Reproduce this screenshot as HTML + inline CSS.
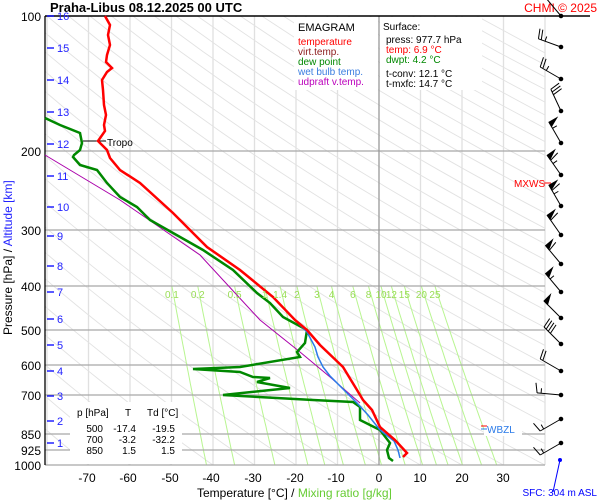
<!DOCTYPE html>
<html><head><meta charset="utf-8"><style>
html,body{margin:0;padding:0;background:#fff;}
svg{display:block;font-family:"Liberation Sans",sans-serif;}
</style></head><body>
<svg id="s" width="600" height="500" viewBox="0 0 600 500" xmlns="http://www.w3.org/2000/svg">
<rect width="600" height="500" fill="#fff"/>
<g id="bg"></g>
<g stroke="#a8a8a8" stroke-width="1.3">
<line x1="45" y1="151" x2="545" y2="151"/><line x1="45" y1="230" x2="545" y2="230"/>
<line x1="45" y1="286" x2="545" y2="286"/><line x1="45" y1="330" x2="545" y2="330"/>
<line x1="45" y1="365" x2="545" y2="365"/><line x1="45" y1="395" x2="545" y2="395"/>
<line x1="45" y1="434" x2="545" y2="434"/><line x1="45" y1="450" x2="545" y2="450"/>
<line x1="45" y1="465" x2="545" y2="465"/>
</g>
<line x1="379" y1="16" x2="379" y2="465" stroke="#999" stroke-width="1.3"/>
<rect x="294" y="17" width="84" height="73" fill="#fff"/>
<rect x="380" y="17" width="102" height="73" fill="#fff"/>
<text x="298" y="31" font-size="11">EMAGRAM</text>
<g font-size="10">
<text x="298" y="45" fill="#f00">temperature</text>
<text x="298" y="55" fill="#8b1a1a">virt.temp.</text>
<text x="298" y="65" fill="#080">dew point</text>
<text x="298" y="75" fill="#3a7de0">wet bulb temp.</text>
<text x="298" y="85" fill="#b0b">udpraft v.temp.</text>
<text x="383" y="30" fill="#000">Surface:</text>
<text x="386" y="43">press: 977.7 hPa</text>
<text x="386" y="53" fill="#f00">temp: 6.9 °C</text>
<text x="386" y="63" fill="#080">dwpt: 4.2 °C</text>
<text x="386" y="77">t-conv: 12.1 °C</text>
<text x="386" y="87">t-mxfc: 14.7 °C</text>
</g>
<line x1="45" y1="16" x2="590" y2="16" stroke="#000" stroke-width="1.5"/>
<line x1="45" y1="16" x2="45" y2="465" stroke="#000" stroke-width="1.3"/>
<text x="50" y="12" font-size="13" font-weight="bold">Praha-Libus    08.12.2025 00 UTC</text>
<text x="597" y="12" font-size="12" fill="#f00" text-anchor="end">CHMI © 2025</text>
<g font-size="12" text-anchor="end">
<text x="41" y="21">100</text><text x="41" y="156">200</text><text x="41" y="235">300</text>
<text x="41" y="291">400</text><text x="41" y="335">500</text><text x="41" y="370">600</text>
<text x="41" y="400">700</text><text x="41" y="439">850</text><text x="41" y="455">925</text>
<text x="41" y="470">1000</text>
</g>
<g stroke="#00f" stroke-width="1.3" id="km"></g>
<g font-size="11" fill="#22f" id="kmt"></g>
<text transform="translate(12,335) rotate(-90)" font-size="12">Pressure [hPa]  /  <tspan fill="#22f">Altitude [km]</tspan></text>
<g font-size="12" text-anchor="middle">
<text x="87" y="482">-70</text><text x="128" y="482">-60</text><text x="170" y="482">-50</text>
<text x="211" y="482">-40</text><text x="253" y="482">-30</text><text x="295" y="482">-20</text>
<text x="336" y="482">-10</text><text x="379" y="482">0</text><text x="420" y="482">10</text>
<text x="462" y="482">20</text><text x="503" y="482">30</text>
</g>
<text x="197" y="497" font-size="12">Temperature [°C]  /  <tspan fill="#6c3">Mixing ratio [g/kg]</tspan></text>
<line x1="83" y1="141" x2="106" y2="141" stroke="#000"/>
<text x="107" y="146" font-size="10">Tropo</text>
<polyline fill="none" stroke="#a0a" stroke-width="1" points="45,155 120,200 200,255 260,320 300,352 330,377 360,403"/>
<polyline fill="none" stroke="#080" stroke-width="2.5" points="45,118 60,125 80,133 82,143 80,150 74,155 73,157 80,165 97,170 107,183 120,197 137,207 150,220 173,233 203,250 233,270 257,293 270,303 283,317 307,330 305,343 297,352 300,357 240,367 193,369 240,372 253,377 270,378 257,382 290,388 223,395 313,400 353,402 360,407 360,420 380,430 390,443 387,450 389,458 393,461"/>
<polyline fill="none" stroke="#2a7ae8" stroke-width="1.5" points="295,320 307,332 315,347 318,357 323,367 330,376 337,383 347,393 357,403 368,415 380,430 394,441 398,450 400,458"/>
<polyline fill="none" stroke="#f00" stroke-width="2.5" points="105,16 110,25 108,35 110,45 107,55 106,62 112,68 107,72 102,80 103,90 104,105 106,115 104,125 105,131 98,141 107,150 110,158 120,170 140,183 173,213 207,247 240,270 273,297 295,320 307,330 320,345 343,367 357,390 363,400 372,410 380,427 395,440 407,453 403,457"/>
<rect x="70" y="402" width="112" height="62" fill="#fff"/>
<g font-size="10">
<text x="77" y="416">p [hPa]</text><text x="125" y="416">T</text><text x="147" y="416">Td [°C]</text>
<g text-anchor="end">
<text x="103" y="432">500</text><text x="136" y="432">-17.4</text><text x="175" y="432">-19.5</text>
<text x="103" y="443">700</text><text x="136" y="443">-3.2</text><text x="175" y="443">-32.2</text>
<text x="103" y="454">850</text><text x="136" y="454">1.5</text><text x="175" y="454">1.5</text>
</g></g>
<rect x="484" y="422" width="38" height="14" fill="#fff"/>
<line x1="481" y1="426" x2="487" y2="426" stroke="#f00"/><line x1="481" y1="429" x2="487" y2="429" stroke="#2a7ae8"/>
<text x="487" y="433" font-size="10" fill="#2a7ae8">WBZL</text>
<text x="514" y="187" font-size="10" fill="#f00">MXWS</text>
<line x1="544" y1="183" x2="551" y2="183" stroke="#f00"/>
<g id="barbs" stroke="#000" stroke-width="1" fill="#000"></g>
<line x1="560" y1="460" x2="553" y2="492" stroke="#00f"/><circle cx="560" cy="460" r="2" fill="#00f"/>
<text x="597" y="496" font-size="10" fill="#00f" text-anchor="end">SFC: 304 m ASL</text>
<g id="mr" font-size="10" fill="#9d5" text-anchor="middle"></g>
</svg>
<script>
var NS="http://www.w3.org/2000/svg";
function el(p,t,a,tx){var e=document.createElementNS(NS,t);for(var k in a)e.setAttribute(k,a[k]);if(tx!=null)e.textContent=tx;p.appendChild(e);return e;}
function Y(p){return 16+449*Math.log10(p/100);}
function X(t){return 379+4.15*t;}
var bg=document.getElementById('bg');
for(var t=-80;t<=40;t+=10){if(t==0)continue;var x=X(t);if(x<45||x>545)continue;el(bg,'line',{x1:x,y1:16,x2:x,y2:465,stroke:'#e0e0e0','stroke-width':1.3});}
var cp=el(bg,'clipPath',{id:'c'});el(cp,'rect',{x:45,y:16,width:500,height:449});
var g=el(bg,'g',{'clip-path':'url(#c)'});
for(var th=-100;th<=300;th+=10){var pts=[];for(var p=100;p<=1000;p+=20){var T=(th+273.15)*Math.pow(p/1000,0.286)-273.15;pts.push(X(T).toFixed(1)+','+Y(p).toFixed(1));}
el(g,'polyline',{points:pts.join(' '),fill:'none',stroke:'#e2e2e2','stroke-width':0.9});}
var ws=[0.1,0.2,0.5,1,1.4,2,3,4,6,8,10,12,15,20,25];
var mr=document.getElementById('mr');
function td(w,p){var e=w*p/(622+w);var l=Math.log(e/6.112);return 243.5*l/(17.67-l);}
ws.forEach(function(w){var pts=[];for(var p=400;p<=1000;p+=20)pts.push(X(td(w,p)).toFixed(1)+','+Y(p).toFixed(1));
el(g,'polyline',{points:pts.join(' '),fill:'none',stroke:'#b8f590','stroke-width':1});
el(mr,'text',{x:X(td(w,400)),y:298},String(w));});
var km=[[16,16],[15,48],[14,80],[13,112],[12,144],[11,176],[10,207],[9,236],[8,266],[7,292],[6,319],[5,345],[4,371],[3,396],[2,421],[1,443]];
var kg=document.getElementById('km'),kt=document.getElementById('kmt');
km.forEach(function(k){el(kg,'line',{x1:47,y1:k[1],x2:54,y2:k[1]});el(kt,'text',{x:57,y:k[1]+4},String(k[0]));});
var b=[[16,-130,20],[47,-160,25],[79,-150,25],[111,-115,30],[143,-120,55],[175,-125,65],[206,-120,65],[235,-125,60],[264,-130,60],[292,-130,55],[318,-135,50],[344,-135,40],[371,-150,20],[395,-175,15],[419,150,15],[443,150,15]];
var bb=document.getElementById('barbs');
b.forEach(function(d){var cx=561,cy=d[0],a=d[1]*Math.PI/180,L=24;
var ex=cx+L*Math.cos(a),ey=cy+L*Math.sin(a);
el(bb,'line',{x1:cx,y1:cy,x2:ex,y2:ey});el(bb,'circle',{cx:cx,cy:cy,r:1.8});
var ux=Math.cos(a),uy=Math.sin(a),px=-uy,py=ux;var s=d[2],pos=0;
function pt(k){return [ex-ux*k,ey-uy*k];}
while(s>=50){var p1=pt(pos),p2=pt(pos+5);el(bb,'polygon',{points:p1[0]+','+p1[1]+' '+(p1[0]+px*9)+','+(p1[1]+py*9)+' '+p2[0]+','+p2[1]});pos+=6;s-=50;}
while(s>=10){var q=pt(pos);el(bb,'line',{x1:q[0],y1:q[1],x2:q[0]+px*10+ux*2,y2:q[1]+py*10+uy*2});pos+=3;s-=10;}
if(s>=5){var q=pt(pos+1);el(bb,'line',{x1:q[0],y1:q[1],x2:q[0]+px*5,y2:q[1]+py*5});}
});
</script>
</body></html>
